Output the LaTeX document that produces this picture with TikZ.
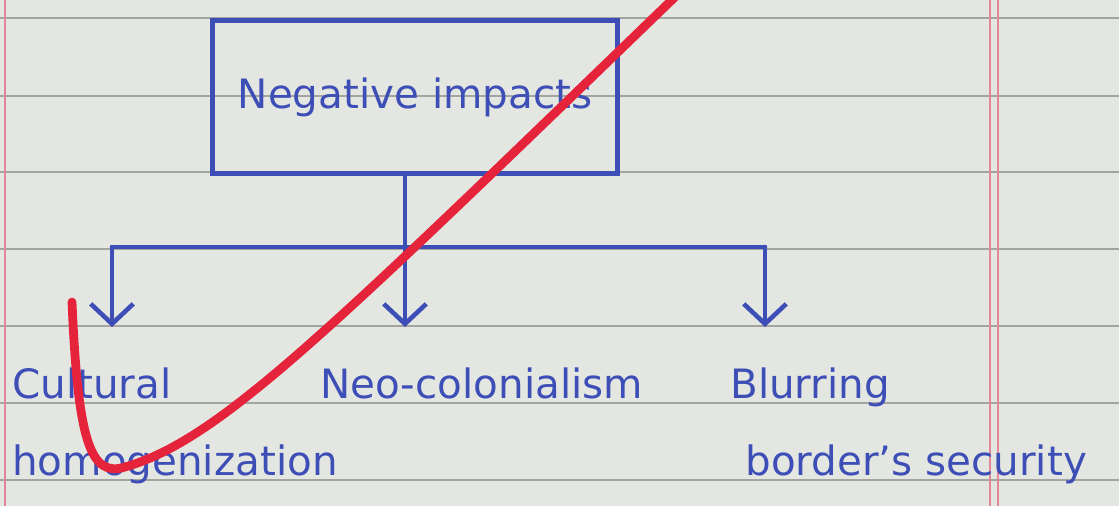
\documentclass[tikz,border=0pt]{standalone}
\usepackage{fontspec}
\setmainfont{DejaVu Sans}
\usetikzlibrary{arrows.meta,positioning}
\definecolor{NoteInk}{HTML}{3D4FB6}
\definecolor{NotePaper}{HTML}{E4E6E1}
\definecolor{NoteRule}{HTML}{A3A5A1}
\definecolor{NoteMargin}{HTML}{E2879A}
\definecolor{NoteRed}{HTML}{E5243B}

\begin{document}
\begin{tikzpicture}[x=0.2mm,y=-0.2mm, every node/.style={font=\fontsize{23}{44}\selectfont,text=NoteInk,align=left,inner sep=0pt},
    inkline/.style={NoteInk,line width=2.6pt,line join=round,line cap=round},
    inkarrow/.style={inkline,-{Straight Barb[length=4mm,width=8.5mm]},shorten >=8mm}]
    \useasboundingbox (0,0) rectangle (1119,506);
    % paper, rules and margins
    \fill[NotePaper] (0,0) rectangle (1119,506);
    \foreach \y in {18,96,172,249,326,403,480}{\draw[NoteRule,line width=1.1pt] (0,\y) -- (1119,\y);}
    \draw[NoteMargin,line width=1.2pt] (5,0) -- (5,506);
    \foreach \x in {990,998}{\draw[NoteMargin,line width=1pt] (\x,0) -- (\x,506);}
    % box and the three impacts
    \node[draw=NoteInk,line width=2.6pt,minimum width=8.1cm,minimum height=3.06cm,align=center] (neg) at (415,97) {Negative impacts};
    \node[anchor=north west] (cult) at (12,367) {Cultural\\homogenization};
    \node[anchor=north west] (neo) at (320,367) {Neo-colonialism};
    \node[anchor=north west] (blur) at (730,367) {Blurring\\\hspace*{3mm}border's security};
    \coordinate (split) at (405,247);
    \coordinate (brL) at (112,247);
    \coordinate (brR) at (765,247);
    \draw[inkline] (neg.south -| split) -- (split);
    \draw[inkline] (brL) -- (brR);
    \foreach \b/\t in {brL/cult,split/neo,brR/blur}{\draw[inkarrow] (\b) -- (\b |- \t.north);}
    % red check mark
    \draw[NoteRed,line width=5pt,line cap=round,line join=round] (72,302) .. controls (78,440) and (90,478) .. (125,467) .. controls (220,440) and (330,330) .. (676,-4);
\end{tikzpicture}
\end{document}
